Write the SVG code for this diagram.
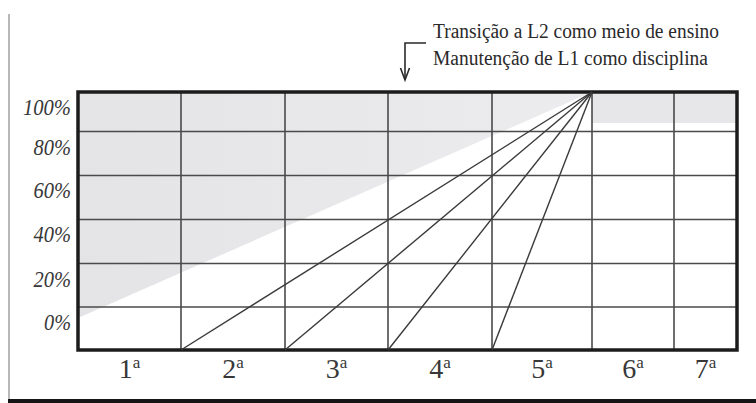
<svg xmlns="http://www.w3.org/2000/svg" width="756" height="403" viewBox="0 0 756 403">
<style>
.grid{stroke:#4a4a4a;stroke-width:1.6;fill:none}
.border{stroke:#1c1c1c;stroke-width:3.5;fill:none}
.fan{stroke:#3a3a3a;stroke-width:1.4;fill:none}
.ylab{font-family:"Liberation Serif",serif;font-style:italic;font-size:24px;fill:#383838;text-anchor:end}
.xlab{font-family:"Liberation Serif",serif;font-size:28px;fill:#383838;text-anchor:middle}
.sup{font-size:17px}
.note{font-family:"Liberation Serif",serif;font-size:20px;fill:#2a2a2a}
.shade{fill:#e7e7e9}
</style>
<defs>
<linearGradient id="fade" x1="0" y1="0" x2="1" y2="0">
<stop offset="0" stop-color="#e4e4e6"/>
<stop offset="1" stop-color="#ececee"/>
</linearGradient>
</defs>
<rect width="756" height="403" fill="#ffffff"/>
<g id="page-frame">
<line x1="9" y1="14" x2="9" y2="400" stroke="#a0a0a0" stroke-width="1.5"/>
<line x1="8" y1="401" x2="756" y2="401" stroke="#151515" stroke-width="4"/>
</g>
<g id="shading">
<polygon points="78,92 592,92 78,318" fill="url(#fade)"/>
<rect class="shade" x="592" y="92" width="145" height="31"/>
</g>
<g id="grid">
<line class="grid" x1="78" y1="131.5" x2="737" y2="131.5"/>
<line class="grid" x1="78" y1="175.5" x2="737" y2="175.5"/>
<line class="grid" x1="78" y1="219.5" x2="737" y2="219.5"/>
<line class="grid" x1="78" y1="263.5" x2="737" y2="263.5"/>
<line class="grid" x1="78" y1="307" x2="737" y2="307"/>
<line class="grid" x1="181" y1="92" x2="181" y2="350"/>
<line class="grid" x1="285" y1="92" x2="285" y2="350"/>
<line class="grid" x1="388" y1="92" x2="388" y2="350"/>
<line class="grid" x1="492" y1="92" x2="492" y2="350"/>
<line class="grid" x1="592" y1="92" x2="592" y2="350"/>
<line class="grid" x1="674" y1="92" x2="674" y2="350"/>
<rect class="border" x="78" y="92" width="659" height="258"/>
</g>
<g id="connectors">
<line class="fan" x1="181" y1="350" x2="592" y2="92"/>
<line class="fan" x1="285" y1="350" x2="592" y2="92"/>
<line class="fan" x1="388" y1="350" x2="592" y2="92"/>
<line class="fan" x1="492" y1="350" x2="592" y2="92"/>
<path d="M426,43 H405 V79" fill="none" stroke="#2a2a2a" stroke-width="1.6"/>
<path d="M400.5,68 L405,80 L409.5,68" fill="none" stroke="#2a2a2a" stroke-width="1.6"/>
</g>
<g id="y-labels">
<text class="ylab" x="71" y="115" textLength="48" lengthAdjust="spacingAndGlyphs">100%</text>
<text class="ylab" x="71" y="155" textLength="37.5" lengthAdjust="spacingAndGlyphs">80%</text>
<text class="ylab" x="71" y="198" textLength="37.5" lengthAdjust="spacingAndGlyphs">60%</text>
<text class="ylab" x="71" y="242" textLength="37.5" lengthAdjust="spacingAndGlyphs">40%</text>
<text class="ylab" x="71" y="287" textLength="37.5" lengthAdjust="spacingAndGlyphs">20%</text>
<text class="ylab" x="71" y="330" textLength="27" lengthAdjust="spacingAndGlyphs">0%</text>
</g>
<g id="x-labels">
<text class="xlab" x="129.5" y="378">1<tspan class="sup" dy="-10">a</tspan></text>
<text class="xlab" x="233" y="378">2<tspan class="sup" dy="-10">a</tspan></text>
<text class="xlab" x="336.5" y="378">3<tspan class="sup" dy="-10">a</tspan></text>
<text class="xlab" x="440" y="378">4<tspan class="sup" dy="-10">a</tspan></text>
<text class="xlab" x="542" y="378">5<tspan class="sup" dy="-10">a</tspan></text>
<text class="xlab" x="633" y="378">6<tspan class="sup" dy="-10">a</tspan></text>
<text class="xlab" x="705.5" y="378">7<tspan class="sup" dy="-10">a</tspan></text>
</g>
<g id="annotation">
<text class="note" x="433" y="38" textLength="286" lengthAdjust="spacingAndGlyphs">Transição a L2 como meio de ensino</text>
<text class="note" x="433" y="65" textLength="275" lengthAdjust="spacingAndGlyphs">Manutenção de L1 como disciplina</text>
</g>
</svg>
